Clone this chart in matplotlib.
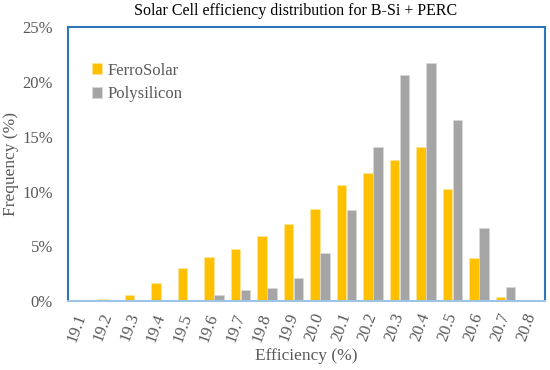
import numpy as np
import matplotlib.pyplot as plt
from matplotlib.ticker import PercentFormatter

# Datos
eficiencia = ['19.1', '19.2', '19.3', '19.4', '19.5', '19.6', '19.7', '19.8', '19.9',
              '20.0', '20.1', '20.2', '20.3', '20.4', '20.5', '20.6', '20.7', '20.8']
ferrosolar = [0.1, 0.2, 0.6, 1.7, 3.0, 4.0, 4.8, 5.9, 7.0,
              8.4, 10.6, 11.7, 12.9, 14.1, 10.2, 3.9, 0.4, 0.0]
polysilicon = [0.05, 0.05, 0.05, 0.0, 0.05, 0.6, 1.0, 1.2, 2.1,
               4.4, 8.3, 14.1, 20.6, 21.7, 16.5, 6.7, 1.3, 0.1]

plt.rcParams['font.family'] = ['Liberation Serif', 'DejaVu Serif']
gris = '#595959'

fig = plt.figure(figsize=(5.5, 3.7), dpi=100)
ax = fig.add_axes([0.124, 0.186, 0.867, 0.741])

x = np.arange(len(eficiencia))
w = 0.36
ax.bar(x - 0.19, ferrosolar, w, color='#FFC000', edgecolor='#FFE699', linewidth=0.5, label='FerroSolar')
ax.bar(x + 0.19, polysilicon, w, color='#A5A5A5', edgecolor='#D9D9D9', linewidth=0.5, label='Polysilicon')

ax.set_xlim(-0.5, len(eficiencia) - 0.5)
ax.set_ylim(0, 25)
ax.yaxis.set_major_formatter(PercentFormatter(decimals=0))
ax.set_yticks(range(0, 26, 5))
ax.set_xticks(x)
ax.set_xticklabels(eficiencia, rotation=70, ha='right', va='center', rotation_mode='anchor')

for lado in ['left', 'top', 'right']:
    ax.spines[lado].set_color('#2E75B6')
    ax.spines[lado].set_linewidth(1.5)
ax.spines['bottom'].set_color('#9DC3E6')
ax.spines['bottom'].set_linewidth(1.5)

ax.tick_params(axis='both', length=0, labelsize=12, colors=gris)
ax.tick_params(axis='x', pad=9)
ax.tick_params(axis='y', pad=11)

ax.set_title('Solar Cell efficiency distribution for B-Si + PERC', fontsize=11.5, pad=9, x=0.476)
ax.set_xlabel('Efficiency (%)', fontsize=12.5, color=gris, labelpad=3)
ax.set_ylabel('Frequency (%)', fontsize=12.5, color=gris, labelpad=2)

ax.legend(loc='upper left', bbox_to_anchor=(0.05, 0.87), frameon=False, fontsize=12,
          handlelength=0.6, handleheight=0.6, handletextpad=0.3, labelspacing=0.45,
          borderaxespad=0, borderpad=0, labelcolor=gris)

plt.savefig('out.png', dpi=100)
